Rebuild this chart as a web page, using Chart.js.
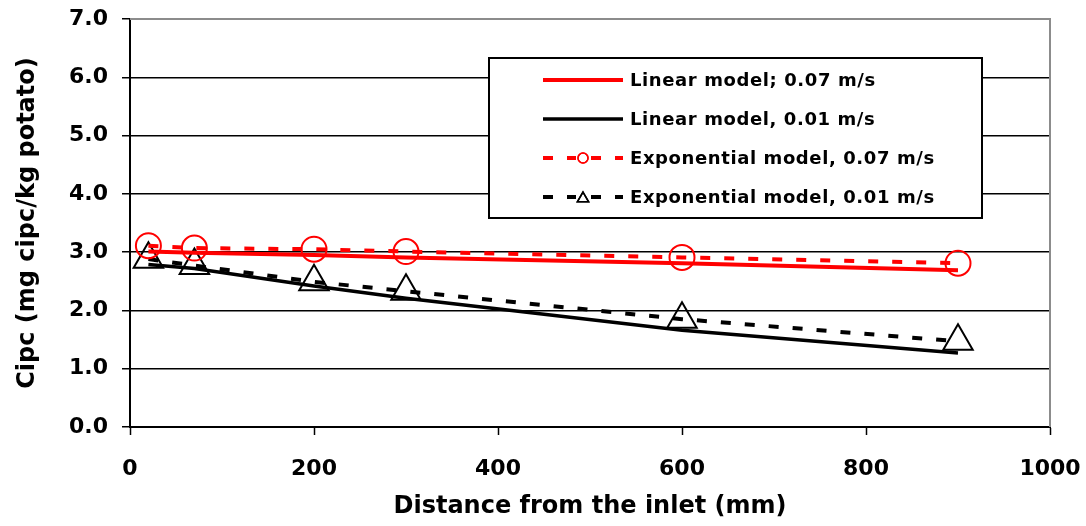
<!DOCTYPE html>
<html lang="en">
<head>
  <meta charset="UTF-8" />
  <title>Cipc vs distance from the inlet</title>
  <script src="https://cdn.jsdelivr.net/npm/chart.js"></script>
  <style>
    html, body { margin: 0; padding: 0; background: #fff; }
    #wrap { width: 1086px; height: 526px; position: relative; }
  </style>
</head>
<body>
<div id="wrap"><canvas id="chart" width="1086" height="526"></canvas></div>

<script>
  // distances (mm) where the models were evaluated
  const distances = [20, 70, 200, 300, 600, 900];

  // Cipc concentration, mg cipc / kg potato
  const linear007 = [3.01, 2.99, 2.95, 2.91, 2.81, 2.69];
  const linear001 = [2.79, 2.72, 2.42, 2.21, 1.66, 1.27];
  const expo007   = [3.11, 3.07, 3.05, 3.01, 2.91, 2.81];
  const expo001   = [2.88, 2.77, 2.49, 2.33, 1.85, 1.47];

  const seriesLabels = [
    'Linear model; 0.07 m/s',
    'Linear model, 0.01 m/s',
    'Exponential model, 0.07 m/s',
    'Exponential model, 0.01 m/s'
  ];

  const xTicks = [0, 200, 400, 600, 800, 1000];
  const yTicks = [0, 1, 2, 3, 4, 5, 6, 7];

  const pts = arr => arr.map((v, i) => ({ x: distances[i], y: v }));

  Chart.defaults.font.family = "'DejaVu Sans', 'Liberation Sans', Arial, sans-serif";
  Chart.defaults.font.weight = 'bold';
  Chart.defaults.color = '#000';

  const DASH = [10, 14];

  // stop chart.js from adding extra room for the outer tick labels
  function noPad(s) {
    s.paddingTop = 0;
    s.paddingBottom = 0;
    s.paddingLeft = 0;
    s.paddingRight = 0;
  }

  // grey frame on top/right + boxed legend inside the plot
  const frameAndLegend = {
    id: 'frameAndLegend',
    afterDatasetsDraw(chart) {
      const { ctx, chartArea: a } = chart;
      ctx.save();
      ctx.strokeStyle = '#8c8c8c';
      ctx.lineWidth = 2;
      ctx.beginPath();
      ctx.moveTo(a.left, a.top);
      ctx.lineTo(a.right, a.top);
      ctx.lineTo(a.right, a.bottom);
      ctx.stroke();
      ctx.restore();
    },
    afterDraw(chart, args, opts) {
      const { ctx } = chart;
      const b = opts.box;
      ctx.save();
      ctx.fillStyle = '#fff';
      ctx.fillRect(b.x, b.y, b.w, b.h);
      ctx.strokeStyle = '#000';
      ctx.lineWidth = 2;
      ctx.strokeRect(b.x, b.y, b.w, b.h);

      ctx.font = 'bold 18px ' + Chart.defaults.font.family;
      ctx.textBaseline = 'middle';
      ctx.textAlign = 'left';

      chart.data.datasets.forEach((ds, i) => {
        const y = b.y + opts.firstRow + i * opts.rowGap;
        const x0 = b.x + opts.sampleLeft;
        const x1 = x0 + opts.sampleWidth;
        ctx.strokeStyle = ds.borderColor;
        ctx.lineWidth = ds.borderWidth;
        ctx.setLineDash(ds.borderDash || []);
        ctx.beginPath();
        ctx.moveTo(x0, y);
        ctx.lineTo(x1, y);
        ctx.stroke();
        ctx.setLineDash([]);
        if (ds.pointRadius > 0) {
          const mx = (x0 + x1) / 2;
          ctx.fillStyle = '#fff';
          ctx.fillRect(mx - 7, y - 7, 14, 14);
          ctx.strokeStyle = ds.pointBorderColor;
          ctx.lineWidth = 1.5;
          Chart.helpers.drawPoint(ctx, { pointStyle: ds.pointStyle, radius: ds.pointStyle === 'triangle' ? 6.5 : 5, borderWidth: 1.5 }, mx, ds.pointStyle === 'triangle' ? y + 1.5 : y);
          ctx.stroke();
        }
        ctx.fillStyle = '#000';
        if ('letterSpacing' in ctx) ctx.letterSpacing = '0.6px';
        ctx.fillText(ds.label, b.x + opts.textLeft, y + 1);
        if ('letterSpacing' in ctx) ctx.letterSpacing = '0px';
      });
      ctx.restore();
    }
  };

  new Chart(document.getElementById('chart'), {
    type: 'scatter',
    data: {
      datasets: [
        {
          label: seriesLabels[0],
          data: pts(linear007),
          showLine: true,
          borderColor: '#ff0000',
          borderWidth: 4,
          pointRadius: 0,
          order: 2
        },
        {
          label: seriesLabels[1],
          data: pts(linear001),
          showLine: true,
          borderColor: '#000000',
          borderWidth: 3.5,
          pointRadius: 0,
          order: 4
        },
        {
          label: seriesLabels[2],
          data: pts(expo007),
          showLine: true,
          borderColor: '#ff0000',
          borderWidth: 4,
          borderDash: DASH,
          pointStyle: 'circle',
          pointRadius: 12.5,
          pointBorderWidth: 2,
          pointBorderColor: '#ff0000',
          pointBackgroundColor: 'rgba(0,0,0,0)',
          order: 1
        },
        {
          label: seriesLabels[3],
          data: pts(expo001),
          showLine: true,
          borderColor: '#000000',
          borderWidth: 4,
          borderDash: DASH,
          pointStyle: 'triangle',
          pointRadius: 17,
          pointBorderWidth: 2,
          pointBorderColor: '#000000',
          pointBackgroundColor: 'rgba(0,0,0,0)',
          order: 3
        }
      ]
    },
    options: {
      responsive: false,
      animation: false,
      layout: { padding: { left: 0, top: 19, right: 36, bottom: 0 } },
      plugins: {
        legend: { display: false },
        tooltip: { enabled: false },
        frameAndLegend: {
          box: { x: 489, y: 58, w: 493, h: 160 },
          firstRow: 22,
          rowGap: 39,
          sampleLeft: 54,
          sampleWidth: 80,
          textLeft: 141
        }
      },
      scales: {
        x: {
          type: 'linear',
          min: 0,
          max: 1000,
          afterBuildTicks: s => { s.ticks = xTicks.map(v => ({ value: v })); },
          afterFit: s => { s.height = 99; noPad(s); },
          ticks: { font: { size: 22, weight: 'bold' }, padding: 21, maxRotation: 0, callback: v => String(v) },
          grid: { drawOnChartArea: false, drawTicks: true, tickLength: 8, tickColor: '#000', tickWidth: 1.5 },
          border: { color: '#000', width: 2 },
          title: {
            display: true,
            text: 'Distance from the inlet (mm)',
            font: { size: 24, weight: 'bold' },
            padding: { top: 0, bottom: 5 }
          }
        },
        y: {
          type: 'linear',
          min: 0,
          max: 7,
          afterBuildTicks: s => { s.ticks = yTicks.map(v => ({ value: v })); },
          afterFit: s => { s.width = 130; noPad(s); },
          ticks: { font: { size: 22, weight: 'bold' }, padding: 14, callback: v => Number(v).toFixed(1) },
          grid: {
            color: c => (c.tick && c.tick.value === 7 ? '#8c8c8c' : '#000'),
            lineWidth: 1.5,
            drawTicks: true,
            tickLength: 8,
            tickColor: '#000',
            tickWidth: 1.5
          },
          border: { color: '#000', width: 2 },
          title: {
            display: true,
            text: 'Cipc (mg cipc/kg potato)',
            font: { size: 24, weight: 'bold' },
            padding: { top: 13, bottom: 0 }
          }
        }
      }
    },
    plugins: [frameAndLegend]
  });
</script>
</body>
</html>
